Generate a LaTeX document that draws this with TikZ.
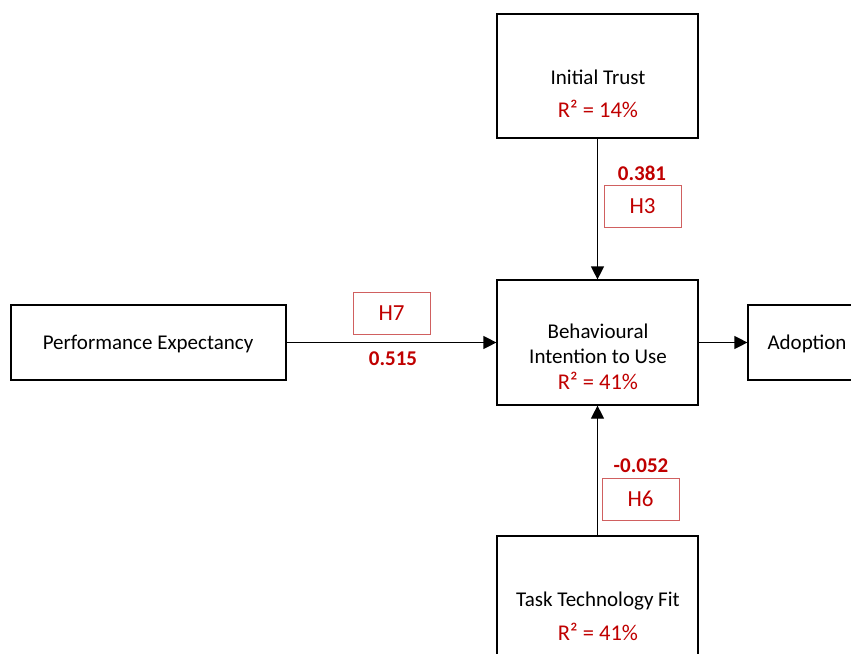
\documentclass[tikz,border=0pt]{standalone}
\usepackage{fontspec}
\setmainfont{Carlito}
\usetikzlibrary{arrows.meta}
\definecolor{numred}{HTML}{C00000}
\definecolor{hbord}{HTML}{D06060}
\begin{document}
\begin{tikzpicture}[x=1pt,y=-1pt,
  box/.style={draw=black,line width=1.2pt,inner sep=0pt,fill=white},
  lbl/.style={font=\fontsize{21}{24}\selectfont,inner sep=0pt,anchor=center},
  rlbl/.style={lbl,text=numred,font=\fontsize{22.5}{26}\selectfont},
  hbox/.style={draw=hbord,line width=1pt,minimum width=77pt,minimum height=42pt,inner sep=0pt,text=numred,font=\fontsize{23}{26}\selectfont},
  num/.style={font=\fontsize{21}{24}\selectfont\bfseries,text=numred,inner sep=0pt},
  arr/.style={draw=black,line width=1.2pt,-{Triangle[width=13pt,length=13pt]}}]
\useasboundingbox (0,0) rectangle (851,653);
\fill[white] (0,0) rectangle (851,653);
% boxes
\node[box,minimum width=201pt,minimum height=124pt] (it) at (597.5,76) {};
\node[box,minimum width=201pt,minimum height=125pt] (bi) at (597.5,342.5) {};
\node[box,minimum width=201pt,minimum height=126pt] (ttf) at (597.5,599) {};
\node[box,minimum width=275pt,minimum height=75pt] (pe) at (148.5,342.5) {};
\node[box,minimum width=118pt,minimum height=75pt] (ad) at (807,342.5) {};
% texts
\node[lbl] (itt) at (598,77) {Initial Trust};
\node[rlbl] (itr) at (598,109) {R² = 14\%};
\node[lbl] (bit1) at (598,331) {Behavioural};
\node[lbl] (bit2) at (598,356) {Intention to Use};
\node[rlbl] (bir) at (598,381) {R² = 41\%};
\node[lbl] (ttft) at (598,601) {Task Technology Fit};
\node[rlbl] (ttfr) at (598,632) {R² = 41\%};
\node[lbl] (pet) at (148,344) {Performance Expectancy};
\node[lbl] (adt) at (807,344) {Adoption};
% connectors
\draw[arr] (it.south) -- (bi.north);
\draw[arr] (ttf.north) -- (bi.south);
\draw[arr] (pe.east) -- (bi.west);
\draw[arr] (bi.east) -- (ad.west);
% hypothesis labels
\node[hbox] (h3) at (642.5,206) {H3};
\node[num] (n3) at (642,173) {0.381};
\node[hbox] (h7) at (391.5,313) {H7};
\node[num] (n7) at (393,359) {0.515};
\node[hbox] (h6) at (640.5,499) {H6};
\node[num] (n6) at (641,466) {-0.052};
\end{tikzpicture}
\end{document}
